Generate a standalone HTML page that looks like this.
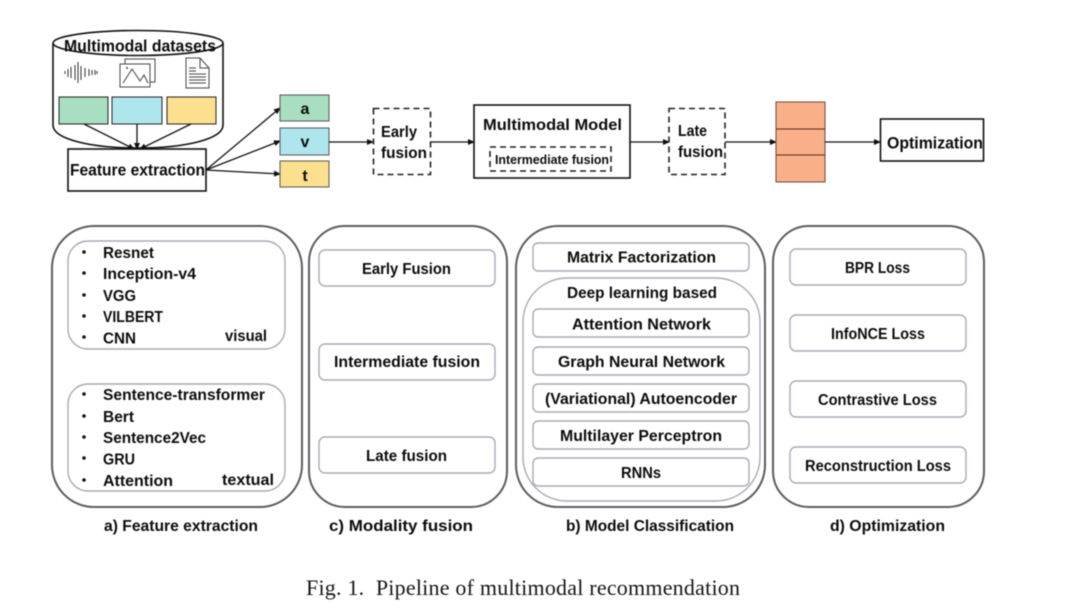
<!DOCTYPE html>
<html><head><meta charset="utf-8"><style>
html,body{margin:0;padding:0;background:#fff}
svg{display:block;filter:blur(.45px)}
text{font-family:"Liberation Sans",sans-serif;font-weight:bold;font-size:16px;fill:#0c0c0c}
.s{stroke:#111;stroke-width:1.6;fill:none}
.d{stroke:#222;stroke-width:1.6;fill:none;stroke-dasharray:6 4}
.p{stroke:#5f5b60;stroke-width:2;fill:#fff}
.b{stroke:#a9a9b8;stroke-width:1.4;fill:#fff}
.a{stroke:#111;stroke-width:1.3;fill:none;marker-end:url(#m)}
.i{stroke:#444;stroke-width:1;fill:#fff}
</style></head><body>
<svg width="1080" height="614" viewBox="0 0 1080 614" xmlns="http://www.w3.org/2000/svg">
<defs><marker id="m" markerWidth="7" markerHeight="6" refX="6" refY="3" orient="auto" markerUnits="userSpaceOnUse"><path d="M0 0L7 3L0 6z" fill="#111"/></marker></defs>
<rect width="1080" height="614" fill="#fff"/>

<!-- cylinder -->
<path class="s" d="M53 43V125C53 139 90 148 138 148C186 148 223 139 223 125V43" style="fill:#fff"/>
<ellipse class="s" cx="138" cy="43" rx="85" ry="12.5"/>
<text x="64" y="51.500" style="font-size:17px" textLength="152" lengthAdjust="spacingAndGlyphs">Multimodal datasets</text>
<!-- wave icon -->
<path stroke="#333" stroke-width="1" fill="none" d="M65 71v3M68 69v8M71 67v11M75 65v15M78 62v21M81 66v14M85 68v9M89 69v7M92 70v5M95 70v5M97 71v3"/>
<!-- image icon -->
<rect class="i" x="125" y="59" width="30" height="23"/>
<rect class="i" x="120" y="64" width="30" height="23"/>
<path class="i" style="fill:none" d="M123 83L132 69L140 81L144 75L148 83"/>
<circle cx="127" cy="68" r="1" fill="#444"/>
<!-- doc icon -->
<path class="i" d="M186 58H200L209 68V88H186z"/>
<path class="i" style="fill:none" d="M200 58V68H209"/>
<path stroke="#444" stroke-width="1" d="M189 68H196M189 71H196M189 74H206M189 77H206M189 80H206M189 83H206"/>

<rect x="59" y="97" width="49" height="27" fill="#a8dfc1" stroke="#222" stroke-width="1"/>
<rect x="112" y="97" width="50" height="27" fill="#aee6ee" stroke="#222" stroke-width="1"/>
<rect x="167" y="97" width="49" height="27" fill="#fde08e" stroke="#222" stroke-width="1"/>

<line class="a" x1="84" y1="124" x2="134" y2="149"/>
<line class="a" x1="137" y1="124" x2="137" y2="149"/>
<line class="a" x1="191" y1="124" x2="140" y2="149"/>

<rect class="s" x="68" y="149" width="138" height="42" style="fill:#fff"/>
<text x="70" y="175.500" style="font-size:17px" textLength="135" lengthAdjust="spacingAndGlyphs">Feature extraction</text>

<line class="a" x1="206" y1="170" x2="280" y2="108"/>
<line class="a" x1="206" y1="170" x2="280" y2="141"/>
<line class="a" x1="206" y1="170" x2="280" y2="174"/>

<rect x="280" y="95" width="49" height="26" fill="#a8dfc1" stroke="#555" stroke-width="1"/>
<rect x="280" y="128" width="49" height="27" fill="#aee6ee" stroke="#555" stroke-width="1"/>
<rect x="280" y="161" width="49" height="26" fill="#fde08e" stroke="#555" stroke-width="1"/>
<text x="305" y="114" text-anchor="middle">a</text>
<text x="305" y="147" text-anchor="middle">v</text>
<text x="305" y="181" text-anchor="middle">t</text>

<line class="a" x1="329" y1="142" x2="373" y2="142"/>
<rect class="d" x="373.500" y="108.500" width="57" height="66"/>
<text x="381" y="137" textLength="36" lengthAdjust="spacingAndGlyphs">Early</text>
<text x="381" y="158" textLength="46" lengthAdjust="spacingAndGlyphs">fusion</text>
<line class="a" x1="430" y1="142" x2="474" y2="142"/>

<rect class="s" x="474" y="105" width="156" height="73"/>
<text x="483" y="130" textLength="139" lengthAdjust="spacingAndGlyphs">Multimodal Model</text>
<rect class="d" x="490" y="147" width="121" height="24"/>
<text x="495" y="164" style="font-size:13px" textLength="114" lengthAdjust="spacingAndGlyphs">Intermediate fusion</text>
<line class="a" x1="630" y1="142" x2="669" y2="142"/>

<rect class="d" x="669" y="108.500" width="56" height="66"/>
<text x="678" y="136" textLength="29" lengthAdjust="spacingAndGlyphs">Late</text>
<text x="678" y="157" textLength="45" lengthAdjust="spacingAndGlyphs">fusion</text>
<line class="a" x1="725" y1="142" x2="776" y2="142"/>

<rect x="776" y="102" width="49" height="80" fill="#f9b088" stroke="#6b4a3a" stroke-width="1"/>
<path d="M776 129H825M776 155H825" stroke="#5a2a18" stroke-width="1"/>
<line class="a" x1="825" y1="142" x2="880" y2="142"/>

<rect class="s" x="880.500" y="119" width="103" height="42"/>
<text x="887" y="148.500" style="font-size:17px" textLength="96" lengthAdjust="spacingAndGlyphs">Optimization</text>

<!-- panel 1 -->
<rect class="p" x="52" y="226" width="250" height="281" rx="42"/>
<rect class="b" x="68" y="241" width="217" height="108" rx="20"/>
<rect class="b" x="68" y="384" width="217" height="107" rx="20"/>
<g fill="#111"><circle cx="84" cy="252" r="1.800"/><circle cx="84" cy="273" r="1.800"/><circle cx="84" cy="295" r="1.800"/><circle cx="84" cy="316" r="1.800"/><circle cx="84" cy="337" r="1.800"/><circle cx="84" cy="394" r="1.800"/><circle cx="84" cy="416" r="1.800"/><circle cx="84" cy="437" r="1.800"/><circle cx="84" cy="458" r="1.800"/><circle cx="84" cy="480" r="1.800"/></g>
<text x="103" y="258" textLength="51" lengthAdjust="spacingAndGlyphs">Resnet</text>
<text x="103" y="279" textLength="93" lengthAdjust="spacingAndGlyphs">Inception-v4</text>
<text x="103" y="301" textLength="33" lengthAdjust="spacingAndGlyphs">VGG</text>
<text x="103" y="322" textLength="60" lengthAdjust="spacingAndGlyphs">VILBERT</text>
<text x="103" y="343.500" textLength="33" lengthAdjust="spacingAndGlyphs">CNN</text>
<text x="225" y="341" textLength="42" lengthAdjust="spacingAndGlyphs">visual</text>
<text x="103" y="400" textLength="162" lengthAdjust="spacingAndGlyphs">Sentence-transformer</text>
<text x="103" y="422" textLength="31" lengthAdjust="spacingAndGlyphs">Bert</text>
<text x="103" y="443" textLength="103" lengthAdjust="spacingAndGlyphs">Sentence2Vec</text>
<text x="103" y="464.500" textLength="32" lengthAdjust="spacingAndGlyphs">GRU</text>
<text x="103" y="486" textLength="70" lengthAdjust="spacingAndGlyphs">Attention</text>
<text x="222" y="485" textLength="52" lengthAdjust="spacingAndGlyphs">textual</text>

<!-- panel 2 -->
<rect class="p" x="309" y="226" width="198" height="281" rx="36"/>
<rect class="b" x="319" y="250" width="176" height="36" rx="6"/>
<rect class="b" x="319" y="344" width="176" height="36" rx="6"/>
<rect class="b" x="319" y="437" width="176" height="36" rx="6"/>
<text x="362" y="274" textLength="89" lengthAdjust="spacingAndGlyphs">Early Fusion</text>
<text x="334" y="367" textLength="146" lengthAdjust="spacingAndGlyphs">Intermediate fusion</text>
<text x="366" y="461" textLength="81" lengthAdjust="spacingAndGlyphs">Late fusion</text>

<!-- panel 3 -->
<rect class="p" x="516" y="226" width="249" height="281" rx="42"/>
<rect class="b" x="533" y="243" width="216" height="28" rx="5"/>
<rect class="b" x="523" y="278" width="237" height="223" rx="44"/>
<rect class="b" x="533" y="309" width="216" height="28" rx="5"/>
<rect class="b" x="533" y="347" width="216" height="28" rx="5"/>
<rect class="b" x="533" y="384" width="216" height="28" rx="5"/>
<rect class="b" x="533" y="421" width="216" height="28" rx="5"/>
<rect class="b" x="533" y="458" width="216" height="28" rx="5"/>
<text x="567" y="262.500" textLength="149" lengthAdjust="spacingAndGlyphs">Matrix Factorization</text>
<text x="567" y="298" textLength="150" lengthAdjust="spacingAndGlyphs">Deep learning based</text>
<text x="572" y="329.500" textLength="139" lengthAdjust="spacingAndGlyphs">Attention Network</text>
<text x="558" y="367" textLength="167" lengthAdjust="spacingAndGlyphs">Graph Neural Network</text>
<text x="545" y="404" textLength="192" lengthAdjust="spacingAndGlyphs">(Variational) Autoencoder</text>
<text x="560" y="441" textLength="162" lengthAdjust="spacingAndGlyphs">Multilayer Perceptron</text>
<text x="621" y="478" textLength="40" lengthAdjust="spacingAndGlyphs">RNNs</text>

<!-- panel 4 -->
<rect class="p" x="773" y="226" width="211" height="281" rx="36"/>
<rect class="b" x="790" y="249" width="176" height="36" rx="6"/>
<rect class="b" x="790" y="315" width="176" height="36" rx="6"/>
<rect class="b" x="790" y="381" width="176" height="36" rx="6"/>
<rect class="b" x="790" y="447" width="176" height="36" rx="6"/>
<text x="845" y="273" textLength="65" lengthAdjust="spacingAndGlyphs">BPR Loss</text>
<text x="831" y="339" textLength="94" lengthAdjust="spacingAndGlyphs">InfoNCE Loss</text>
<text x="818" y="405" textLength="119" lengthAdjust="spacingAndGlyphs">Contrastive Loss</text>
<text x="805" y="471" textLength="146" lengthAdjust="spacingAndGlyphs">Reconstruction Loss</text>

<text x="104" y="531" textLength="154" lengthAdjust="spacingAndGlyphs">a) Feature extraction</text>
<text x="329" y="531" textLength="144" lengthAdjust="spacingAndGlyphs">c) Modality fusion</text>
<text x="566" y="531" textLength="168" lengthAdjust="spacingAndGlyphs">b) Model Classification</text>
<text x="830" y="531" textLength="115" lengthAdjust="spacingAndGlyphs">d) Optimization</text>

<text x="306" y="595" xml:space="preserve" style="font-family:'Liberation Serif',serif;font-weight:normal;font-size:22px;fill:#151515" textLength="434" lengthAdjust="spacing">Fig. 1.  Pipeline of multimodal recommendation</text>
</svg>
</body></html>
